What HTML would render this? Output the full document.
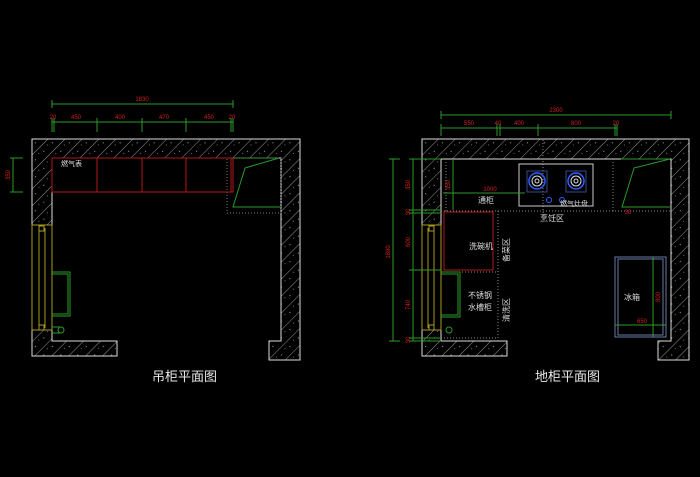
<!DOCTYPE html>
<html><head><meta charset="utf-8"><style>
html,body{margin:0;padding:0;background:#000;width:700px;height:477px;overflow:hidden}
svg{display:block}
text{font-family:"Liberation Sans","Noto Sans CJK SC",sans-serif}
</style></head><body>
<svg width="700" height="477" viewBox="0 0 700 477" xmlns="http://www.w3.org/2000/svg">
<defs>
<pattern id="h" width="12" height="12" patternUnits="userSpaceOnUse" patternTransform="rotate(45)">
<rect width="12" height="12" fill="#000"/>
<line x1="0" y1="0" x2="0" y2="12" stroke="#bbb" stroke-width="0.8"/>
<circle cx="6" cy="4" r="0.6" fill="#999"/><circle cx="4" cy="9" r="0.5" fill="#999"/>
</pattern>
</defs>
<rect width="700" height="477" fill="#000"/>

<!-- LEFT PLAN -->
<g stroke="#ddd" stroke-width="1" fill="url(#h)">
<path d="M32,139 H300 V360 H269 V341 H281 V158 H52 V225 H32 Z"/>
<path d="M32,330 H52 V341 H117 V356 H32 Z"/>
</g>
<g stroke="#aa9a20" fill="none" stroke-width="1">
<rect x="32" y="225" width="20" height="105"/>
<line x1="39" y1="228" x2="39" y2="328"/><line x1="45" y1="228" x2="45" y2="328"/>
<rect x="39" y="226" width="5" height="5"/><rect x="39" y="325" width="5" height="5"/>
</g>
<g stroke="#2a9a2a" fill="none">
<path d="M52,272 H70 V316 H52"/><path d="M52,274 H68 V314 H52"/>
<path d="M52,327 H60 M52,333 H60"/><circle cx="61" cy="330" r="3"/>
<path d="M233,158 H279 L245,168 L233,207 H281"/>
</g>
<rect x="227" y="158" width="54" height="55" fill="none" stroke="#777" stroke-dasharray="1,2"/>
<g stroke="#b01818" fill="none">
<rect x="52" y="158" width="181" height="34"/>
<line x1="97" y1="158" x2="97" y2="192"/><line x1="142" y1="158" x2="142" y2="192"/><line x1="186" y1="158" x2="186" y2="192"/>
<line x1="231" y1="158" x2="231" y2="192"/>
</g>
<text x="61" y="166" font-size="7" fill="#ddd">燃气表</text>
<g stroke="#2a9a2a" fill="none">
<line x1="52" y1="104" x2="233" y2="104"/><line x1="52" y1="100" x2="52" y2="108"/><line x1="233" y1="100" x2="233" y2="108"/>
<line x1="52" y1="122" x2="233" y2="122"/>
<path d="M52,118V132 M54,118V132 M97,118V132 M142,118V132 M186,118V132 M231,118V132 M233,118V132"/>
<line x1="13" y1="158" x2="13" y2="192"/><line x1="10" y1="158" x2="23" y2="158"/><line x1="10" y1="192" x2="23" y2="192"/>
</g>
<g fill="#d02020" font-size="6" text-anchor="middle">
<text x="142" y="101">1830</text>
<text x="53" y="119">20</text><text x="76" y="119">450</text><text x="120" y="119">400</text><text x="164" y="119">470</text><text x="209" y="119">450</text><text x="232" y="119">20</text>
<text transform="translate(10,175) rotate(-90)">350</text>
</g>
<text x="152" y="381" font-size="13" fill="#e8e8e8">吊柜平面图</text>

<!-- RIGHT PLAN -->
<g stroke="#ddd" stroke-width="1" fill="url(#h)">
<path d="M422,139 H689 V360 H658 V341 H671 V159 H441 V225 H422 Z"/>
<path d="M422,330 H441 V341 H507 V356 H422 Z"/>
</g>
<g stroke="#aa9a20" fill="none">
<rect x="422" y="225" width="19" height="105"/>
<line x1="428" y1="228" x2="428" y2="328"/><line x1="434" y1="228" x2="434" y2="328"/>
<rect x="429" y="226" width="5" height="5"/><rect x="429" y="325" width="5" height="5"/>
</g>
<g stroke="#888" fill="none" stroke-dasharray="1,2">
<line x1="441" y1="211" x2="671" y2="211"/><line x1="498" y1="211" x2="498" y2="341"/>
<line x1="613" y1="159" x2="613" y2="211"/><line x1="446" y1="159" x2="446" y2="211"/>
<line x1="441" y1="272" x2="498" y2="272"/><line x1="441" y1="338" x2="498" y2="338"/>
<line x1="543" y1="140" x2="543" y2="222"/>
</g>
<rect x="519" y="164" width="74" height="42" fill="none" stroke="#ccc"/>
<g fill="none">
<rect x="527" y="171" width="20" height="21" stroke="#3a4a8a"/>
<rect x="566" y="171" width="20" height="21" stroke="#3a4a8a"/>
<circle cx="537" cy="181" r="8" stroke="#3060ff" stroke-width="1.5"/><circle cx="537" cy="181" r="5" stroke="#ddd"/><circle cx="537" cy="181" r="2" stroke="#ddd"/>
<circle cx="576" cy="181" r="8" stroke="#3060ff" stroke-width="1.5"/><circle cx="576" cy="181" r="5" stroke="#ddd"/><circle cx="576" cy="181" r="2" stroke="#ddd"/>
<circle cx="549" cy="200" r="2.5" stroke="#3060ff"/><circle cx="562" cy="200" r="2.5" stroke="#3060ff"/>
</g>
<rect x="444" y="212" width="49" height="58" fill="none" stroke="#b01818"/>
<g stroke="#2a9a2a" fill="none">
<path d="M441,272 H460 V317 H441"/><path d="M441,274 H458 V315 H441"/>
<circle cx="449" cy="330" r="3"/>
<path d="M621,159 H670 L634,168 L622,207 H670"/>
<line x1="653" y1="257" x2="653" y2="337"/><line x1="615" y1="325" x2="666" y2="325"/>
</g>
<rect x="615" y="257" width="51" height="80" fill="none" stroke="#6a7aa0"/>
<rect x="618" y="259" width="45" height="76" fill="none" stroke="#6a7aa0"/>
<g stroke="#2a9a2a" fill="none">
<line x1="441" y1="115" x2="671" y2="115"/><line x1="441" y1="111" x2="441" y2="119"/><line x1="671" y1="111" x2="671" y2="119"/>
<line x1="441" y1="128" x2="617" y2="128"/>
<path d="M441,124V136 M497,124V136 M500,124V136 M538,124V136 M615,124V136 M617,124V136"/>
<line x1="393" y1="159" x2="393" y2="341"/><line x1="389" y1="159" x2="400" y2="159"/><line x1="389" y1="341" x2="400" y2="341"/>
<line x1="413" y1="159" x2="413" y2="341"/>
<path d="M409,159H441 M409,210H441 M409,213H441 M409,270H441 M409,338H441 M409,341H441"/>
<line x1="453" y1="159" x2="453" y2="210"/>
<line x1="443" y1="193" x2="525" y2="193"/>
</g>
<g fill="#d02020" font-size="6" text-anchor="middle">
<text x="556" y="112">2300</text>
<text x="469" y="125">550</text><text x="498" y="125">40</text><text x="519" y="125">400</text><text x="576" y="125">800</text><text x="616" y="125">20</text>
<text transform="translate(390,252) rotate(-90)">1890</text>
<text transform="translate(410,185) rotate(-90)">350</text>
<text transform="translate(410,212) rotate(-90)">30</text>
<text transform="translate(410,242) rotate(-90)">600</text>
<text transform="translate(410,305) rotate(-90)">740</text>
<text transform="translate(410,340) rotate(-90)">30</text>
<text transform="translate(450,185) rotate(-90)">350</text>
<text x="490" y="191">1000</text>
<text transform="translate(660,297) rotate(-90)">800</text>
<text x="642" y="323">650</text>
<text x="628" y="214">30</text>
</g>
<g fill="#ddd" font-size="8">
<text x="478" y="203">通柜</text>
<text x="560" y="206" font-size="7">燃气灶盘</text>
<text x="540" y="221">烹饪区</text>
<text x="469" y="249">洗碗机</text>
<text x="468" y="298">不锈钢</text>
<text x="468" y="310">水槽柜</text>
<text x="624" y="300">冰箱</text>
<text transform="translate(509,262) rotate(-90)">备菜区</text>
<text transform="translate(509,322) rotate(-90)">清洗区</text>
</g>
<text x="535" y="381" font-size="13" fill="#e8e8e8">地柜平面图</text>
</svg>
</body></html>
